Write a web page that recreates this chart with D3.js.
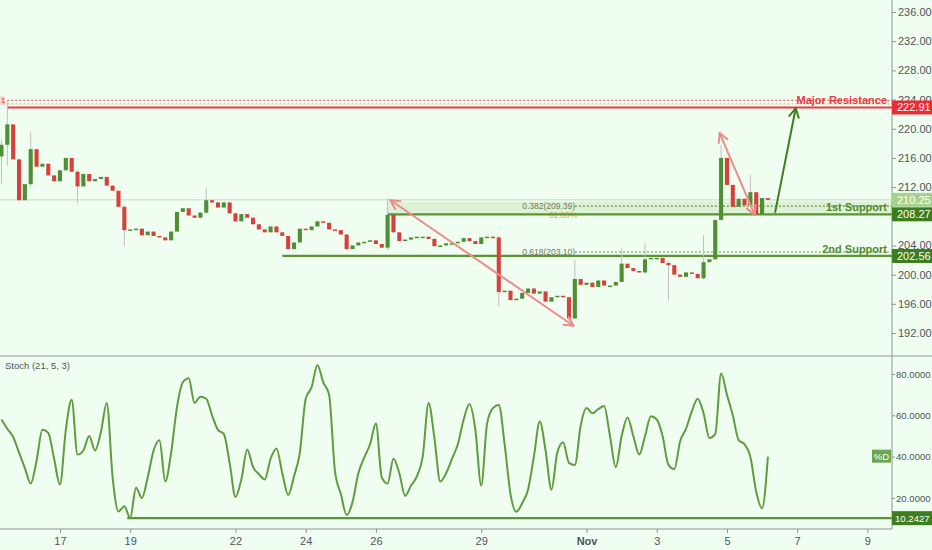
<!DOCTYPE html>
<html>
<head>
<meta charset="utf-8">
<script src="https://cdn.jsdelivr.net/npm/d3@7/dist/d3.min.js"></script>
<style>
  body { margin: 0; background: #f0fef2; }
  svg { display: block; font-family: "Liberation Sans", Arial, sans-serif; }
</style>
</head>
<body>
<svg id="chart" width="932" height="550"></svg>
<script>
// 4h bars starting Oct 15 2018 08:00
var startTime = new Date(2018, 9, 15, 8)
var barHours = 4
var firstOpen = 216.2

var closes = [
  217.8, 220.6, 215.8, 210.2, 212.4, 217.2, 214.8, 215.2, 213.6, 212.8,
  214.3, 216.0, 214.1, 212.1, 213.8, 212.8, 213.1, 213.4, 212.2, 211.5,
  209.3, 206.1, 206.2, 206.3, 205.4, 205.9, 205.3, 205.1, 204.7, 205.9,
  208.6, 209.1, 208.1, 207.8, 208.5, 210.2, 209.9, 209.2, 209.9, 208.4,
  207.3, 208.3, 207.8, 206.9, 206.2, 205.8, 206.6, 205.8, 205.3, 203.5,
  204.4, 206.3, 206.1, 206.6, 207.3, 207.1, 206.2, 206.1, 205.5, 203.5,
  204.0, 204.4, 204.5, 204.7, 204.2, 203.7, 208.2, 205.8, 204.6, 204.8,
  205.1, 205.2, 205.2, 204.9, 203.9, 204.0, 204.3, 204.3, 204.5, 205.0,
  204.6, 204.2, 205.1, 205.2, 205.1, 197.6, 197.8, 196.5, 196.7, 197.5,
  198.1, 197.4, 197.7, 196.3, 196.9, 197.1, 196.9, 194.0, 199.4, 198.6,
  198.9, 198.3, 199.2, 198.5, 198.5, 199.0, 201.5, 200.9, 200.5, 200.3,
  202.1, 202.3, 202.3, 201.6, 201.3, 200.0, 199.7, 200.3, 200.1, 199.5,
  201.7, 202.1, 207.5, 216.0, 212.3, 209.3, 210.4, 209.5, 211.3, 208.3,
  210.5, 210.25
]

// [bar index, high, low] for bars with visible wicks
var wicks = [
  [0, 218.5, 212.5], [1, 223.9, 215.0], [5, 219.6, 212.0], [13, 214.3, 209.8],
  [21, 209.5, 203.9], [35, 211.9, 208.3], [66, 210.5, 203.4], [85, 205.3, 195.6],
  [97, 197.0, 193.3], [98, 202.0, 193.9], [106, 203.6, 199.0], [110, 204.3, 200.2],
  [114, 201.8, 196.5], [120, 205.4, 199.4], [123, 217.8, 207.4], [128, 213.7, 209.4]
]

var stoch = [
  58, 53.5, 49.5, 42, 34.5, 27, 38, 53, 51.5, 39,
  26.5, 53, 67.5, 41, 43, 50, 43, 52, 66, 30,
  13.5, 16, 10.3, 25, 20, 30, 43, 48, 28, 42,
  64, 76, 78, 66, 69, 68, 60, 53, 51, 37,
  20.5, 29, 43.5, 35, 31.5, 29, 39, 44, 32, 21.5,
  30.5, 42, 68, 73.5, 84.4, 76, 70, 33, 22, 11.8,
  18, 32, 39.5, 46, 56, 30, 27, 39, 32, 21,
  26, 30.5, 40, 66, 49, 28, 32, 39, 46, 58,
  65.5, 53, 26, 56, 63.5, 65, 46, 22, 13.3, 17.5,
  24, 40, 57, 43, 24, 42, 47, 37, 36, 55,
  63.5, 61, 63, 64.5, 50, 35, 50, 59, 50, 41,
  50, 59.5, 58, 50, 36, 34, 47.5, 53.5, 62, 68,
  61, 49, 51, 80.3, 70, 60, 48, 46, 40, 23,
  15, 40
]

var priceTicks = [192, 196, 200, 204, 212, 216, 220, 224, 228, 232, 236]
var stochTicks = [20, 40, 60, 80]
var dayTicks = [
  new Date(2018, 9, 17), new Date(2018, 9, 19), new Date(2018, 9, 22), new Date(2018, 9, 24),
  new Date(2018, 9, 26), new Date(2018, 9, 29), new Date(2018, 10, 1), new Date(2018, 10, 3),
  new Date(2018, 10, 5), new Date(2018, 10, 7), new Date(2018, 10, 9)
]
var dayLabels = ["17", "19", "22", "24", "26", "29", "Nov", "3", "5", "7", "9"]

var resistance = 222.91
var support1 = 208.27
var support2 = 202.56
var lastPrice = 210.25
var fibTop = [223.9, 223.4]
var fib382 = 209.39
var fib618 = 203.10
var stochLow = 10.2427

// arrows: [time1, price1, time2, price2]
var pinkArrows = [
  [new Date(2018, 9, 26, 10), 210.2, new Date(2018, 9, 31, 15), 193.0],
  [new Date(2018, 10, 4, 19), 219.4, new Date(2018, 10, 5, 19), 208.2]
]
var greenArrow = [new Date(2018, 10, 6, 9), 208.6, new Date(2018, 10, 6, 23), 222.8]

var width = 932, height = 550
var axisX = 892
var mainBottom = 356, stochBottom = 529

var red = '#e8393f', green = '#3c7d1e', lineGreen = '#5a9434'
var textGray = '#4e5459', axisGray = '#8c9490'

var svg = d3.select('#chart')

var x = d3.scaleTime()
  .domain([new Date(2018, 9, 15, 7), new Date(2018, 10, 9, 16, 50)])
  .range([0, axisX])
var y = d3.scaleLinear().domain([192, 236]).range([333, 12])
var ys = d3.scaleLinear().domain([20, 80]).range([498, 374])

// build candles from closes
var bars = closes.map(function(c, i) {
  var o = i === 0 ? firstOpen : closes[i - 1]
  return { t: new Date(startTime.getTime() + i * barHours * 3600e3), o: o, c: c,
           h: Math.max(o, c), l: Math.min(o, c) }
})
wicks.forEach(function(w) { bars[w[0]].h = w[1]; bars[w[0]].l = w[2] })

svg.append('rect').attr('width', width).attr('height', height).attr('fill', '#f0fef2')

var defs = svg.append('defs')
defs.append('clipPath').attr('id', 'mainClip')
  .append('rect').attr('x', 0).attr('y', 0).attr('width', axisX).attr('height', mainBottom)
defs.append('clipPath').attr('id', 'stochClip')
  .append('rect').attr('x', 0).attr('y', mainBottom).attr('width', axisX).attr('height', stochBottom - mainBottom)

var main = svg.append('g').attr('clip-path', 'url(#mainClip)')

// last price line
main.append('line')
  .attr('x1', 0).attr('x2', axisX).attr('y1', y(lastPrice)).attr('y2', y(lastPrice))
  .attr('stroke', '#c9dcc4').attr('stroke-width', 1)

// support zone
var zoneStart = x(new Date(2018, 9, 26, 8))
main.append('rect')
  .attr('x', zoneStart).attr('y', y(210.0))
  .attr('width', axisX - zoneStart).attr('height', y(support1) - y(210.0))
  .attr('fill', '#d6edca').attr('opacity', 0.75)

// top fib lines + resistance
var resStart = x(new Date(2018, 9, 15, 12))
main.append('line').attr('x1', resStart).attr('x2', axisX)
  .attr('y1', y(fibTop[0])).attr('y2', y(fibTop[0]))
  .attr('stroke', '#e86a6a').attr('stroke-width', 1.3).attr('stroke-dasharray', '2,2')
main.append('line').attr('x1', resStart).attr('x2', axisX)
  .attr('y1', y(fibTop[1])).attr('y2', y(fibTop[1]))
  .attr('stroke', '#e0c08a').attr('stroke-width', 1.3).attr('stroke-dasharray', '2,2')
main.append('line').attr('x1', resStart).attr('x2', axisX)
  .attr('y1', y(resistance)).attr('y2', y(resistance))
  .attr('stroke', red).attr('stroke-width', 2.2)
main.append('rect').attr('x', 0).attr('y', y(fibTop[0]) - 4).attr('width', 5).attr('height', 9)
  .attr('fill', '#f6d6d0')
main.append('text').attr('x', 1).attr('y', y(fibTop[0]) + 3)
  .attr('font-size', 8).attr('fill', red).text('1')

// fib 0.382 / 0.618
var fibText = x(new Date(2018, 9, 30, 4))
var fibLine = x(new Date(2018, 9, 31, 16))
;[[fib382, '0.382(209.39)'], [fib618, '0.618(203.10)']].forEach(function(f) {
  main.append('line').attr('x1', fibLine).attr('x2', axisX)
    .attr('y1', y(f[0])).attr('y2', y(f[0]))
    .attr('stroke', '#6f8a55').attr('stroke-width', 1.2).attr('stroke-dasharray', '2,2')
  main.append('text').attr('x', fibText).attr('y', y(f[0]) + 3)
    .attr('font-size', 8.5).attr('fill', '#6c7a58').text(f[1])
})
main.append('text').attr('x', x(new Date(2018, 9, 30, 22)) ).attr('y', y(support1) + 4)
  .attr('font-size', 8.5).attr('fill', '#d2b748').text('61.80%')

// support lines
main.append('line').attr('x1', zoneStart).attr('x2', axisX)
  .attr('y1', y(support1)).attr('y2', y(support1))
  .attr('stroke', lineGreen).attr('stroke-width', 2.2)
main.append('line').attr('x1', x(new Date(2018, 9, 23, 8))).attr('x2', axisX)
  .attr('y1', y(support2)).attr('y2', y(support2))
  .attr('stroke', lineGreen).attr('stroke-width', 2.2)

// candles
var step = x(new Date(startTime.getTime() + barHours * 3600e3)) - x(startTime)
var bodyW = step * 0.7
var candle = main.append('g').selectAll('g').data(bars).enter().append('g')
candle.append('line')
  .attr('x1', function(d) { return x(d.t) }).attr('x2', function(d) { return x(d.t) })
  .attr('y1', function(d) { return y(d.h) }).attr('y2', function(d) { return y(d.l) })
  .attr('stroke', '#c4bcbc').attr('stroke-width', 1)
candle.append('rect')
  .attr('x', function(d) { return x(d.t) - bodyW / 2 })
  .attr('width', bodyW)
  .attr('y', function(d) { return y(Math.max(d.o, d.c)) })
  .attr('height', function(d) { return Math.max(1.5, Math.abs(y(d.o) - y(d.c))) })
  .attr('fill', function(d) { return d.c >= d.o ? '#4d8f31' : '#d8403b' })

// arrows
function arrow(g, a, color, both) {
  var x1 = x(a[0]), y1 = y(a[1]), x2 = x(a[2]), y2 = y(a[3])
  g.append('line').attr('x1', x1).attr('y1', y1).attr('x2', x2).attr('y2', y2)
    .attr('stroke', color).attr('stroke-width', 2).attr('stroke-linecap', 'round')
  var heads = both ? [[x1, y1, x2, y2], [x2, y2, x1, y1]] : [[x1, y1, x2, y2]]
  heads.forEach(function(h) {
    var ang = Math.atan2(h[3] - h[1], h[2] - h[0])
    ;[-0.5, 0.5].forEach(function(da) {
      g.append('line').attr('x1', h[2]).attr('y1', h[3])
        .attr('x2', h[2] - 10 * Math.cos(ang + da)).attr('y2', h[3] - 10 * Math.sin(ang + da))
        .attr('stroke', color).attr('stroke-width', 2).attr('stroke-linecap', 'round')
    })
  })
}
pinkArrows.forEach(function(a) { arrow(main, a, '#f08a8a', true) })
arrow(main, greenArrow, '#3d7f1c', false)

// level captions
function caption(txt, p, color) {
  svg.append('text').attr('x', 887).attr('y', y(p) - 3)
    .attr('text-anchor', 'end').attr('font-size', 11).attr('font-weight', 'bold')
    .attr('fill', color).text(txt)
}
caption('Major Resistance', resistance, red)
caption('1st Support', support1, '#4f8a2c')
caption('2nd Support', support2, '#4f8a2c')

// stochastic pane
var st = svg.append('g').attr('clip-path', 'url(#stochClip)')
st.append('line').attr('x1', x(new Date(2018, 9, 18, 22))).attr('x2', axisX)
  .attr('y1', ys(stochLow)).attr('y2', ys(stochLow))
  .attr('stroke', lineGreen).attr('stroke-width', 2.2)
st.append('path').datum(stoch)
  .attr('d', d3.line()
    .x(function(d, i) { return x(bars[i].t) })
    .y(function(d) { return ys(d) })
    .curve(d3.curveMonotoneX))
  .attr('fill', 'none').attr('stroke', '#5e9c3c').attr('stroke-width', 2)
svg.append('text').attr('x', 5).attr('y', 369).attr('font-size', 9.5)
  .attr('fill', textGray).text('Stoch (21, 5, 3)')

// frame lines
svg.append('line').attr('x1', 0).attr('x2', width).attr('y1', mainBottom).attr('y2', mainBottom)
  .attr('stroke', axisGray).attr('stroke-width', 1)
svg.append('line').attr('x1', 0).attr('x2', axisX).attr('y1', stochBottom).attr('y2', stochBottom)
  .attr('stroke', axisGray).attr('stroke-width', 1)
svg.append('line').attr('x1', axisX).attr('x2', axisX).attr('y1', 0).attr('y2', stochBottom)
  .attr('stroke', axisGray).attr('stroke-width', 1)

// axes
function styleAxis(size) {
  return function(g) {
    g.select('.domain').remove()
    g.selectAll('line').attr('stroke', axisGray)
    g.selectAll('text').attr('fill', textGray).attr('font-size', size)
      .attr('font-family', '"Liberation Sans", Arial, sans-serif')
  }
}
svg.append('g').attr('transform', 'translate(' + axisX + ',0)')
  .call(d3.axisRight(y).tickValues(priceTicks).tickFormat(d3.format('.2f')).tickSize(4).tickPadding(2))
  .call(styleAxis(11))
svg.append('g').attr('transform', 'translate(' + axisX + ',0)')
  .call(d3.axisRight(ys).tickValues(stochTicks).tickFormat(d3.format('.4f')).tickSize(3).tickPadding(1))
  .call(styleAxis(9.6))
var xa = svg.append('g').attr('transform', 'translate(0,' + stochBottom + ')')
  .call(d3.axisBottom(x).tickValues(dayTicks).tickFormat(function(d, i) { return dayLabels[i] })
    .tickSize(4).tickPadding(4))
  .call(styleAxis(11))
xa.selectAll('text').filter(function(d, i) { return dayLabels[i] === 'Nov' })
  .attr('font-weight', 'bold')

// price tags on the axis
function tag(yPos, txt, fill, color, size) {
  svg.append('rect').attr('x', axisX).attr('y', yPos - 7).attr('width', width - axisX).attr('height', 14)
    .attr('fill', fill)
  svg.append('text').attr('x', axisX + (size < 11 ? 3 : 5)).attr('y', yPos + 4).attr('font-size', size)
    .attr('fill', color).text(txt)
}
tag(y(lastPrice), d3.format('.2f')(lastPrice), '#a6d38c', '#ffffff', 11)
tag(y(resistance), d3.format('.2f')(resistance), '#ee2b35', '#ffffff', 11)
tag(y(support1), d3.format('.2f')(support1), green, '#ffffff', 11)
tag(y(support2), d3.format('.2f')(support2), green, '#ffffff', 11)
tag(ys(stochLow), d3.format('.4f')(stochLow), green, '#ffffff', 9.6)

svg.append('rect').attr('x', 872).attr('y', ys(40) - 7).attr('width', 19).attr('height', 13)
  .attr('fill', '#6aa84f')
svg.append('text').attr('x', 881.5).attr('y', ys(40) + 3.5).attr('text-anchor', 'middle')
  .attr('font-size', 9.5).attr('fill', '#ffffff').text('%D')
</script>
</body>
</html>
